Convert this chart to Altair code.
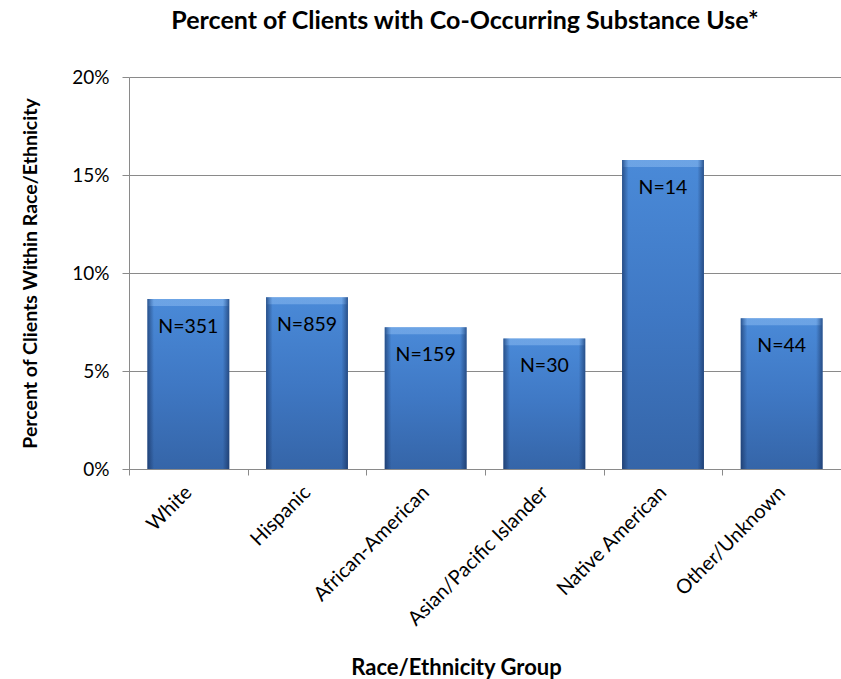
import altair as alt
import pandas as pd

groups = ["White", "Hispanic", "African-American", "Asian/Pacific Islander",
          "Native American", "Other/Unknown"]
percents = [8.67, 8.76, 7.23, 6.66, 15.76, 7.69]
n_labels = ["N=351", "N=859", "N=159", "N=30", "N=14", "N=44"]
y_ticks = [0, 0.05, 0.10, 0.15, 0.20]

df = pd.DataFrame({"group": groups, "pct": [p / 100 for p in percents], "label": n_labels})

FONT = "Lato"
GRID = "#8a8a8a"

x_enc = alt.X(
    "group:N", sort=groups,
    scale=alt.Scale(paddingInner=0, paddingOuter=0),
    axis=alt.Axis(
        title="Race/Ethnicity Group", labelAngle=-45, labelAlign="right", labelBaseline="middle",
        tickBand="extent", tickSize=6, tickColor=GRID, domainColor=GRID, labelPadding=14,
        labelFont=FONT, labelFontSize=20, labelColor="black", labelLimit=400,
        titleFont=FONT, titleFontSize=22, titleFontWeight="bold", titleColor="black",
        titleX=327, titleY=198, titleAlign="center", titleBaseline="middle", titleAngle=0,
    ),
)
y_enc = alt.Y(
    "pct:Q",
    scale=alt.Scale(domain=[0, 0.2]),
    axis=alt.Axis(
        title="Percent of Clients Within Race/Ethnicity", values=y_ticks, format=".0%",
        tickSize=7, tickColor=GRID, domainColor=GRID, gridColor=GRID, grid=True,
        labelPadding=13, labelFont=FONT, labelFontSize=19, labelColor="black",
        titleFont=FONT, titleFontSize=19.5, titleFontWeight="bold", titleColor="black",
        titleX=-99, titleY=196, titleAngle=-90, titleAlign="center", titleBaseline="middle",
    ),
)

base_grad = alt.Gradient(
    gradient="linear", x1=0, x2=0, y1=0, y2=1,
    stops=[alt.GradientStop(color="#4a8ad8", offset=0),
           alt.GradientStop(color="#3f78c4", offset=0.5),
           alt.GradientStop(color="#3565a8", offset=1)],
)
edge_grad = alt.Gradient(
    gradient="linear", x1=0, x2=1, y1=0, y2=0,
    stops=[alt.GradientStop(color="rgba(15,35,75,0.55)", offset=0),
           alt.GradientStop(color="rgba(15,35,75,0.0)", offset=0.08),
           alt.GradientStop(color="rgba(15,35,75,0.0)", offset=0.92),
           alt.GradientStop(color="rgba(15,35,75,0.55)", offset=1)],
)
bevel_grad = alt.Gradient(
    gradient="linear", x1=0, x2=1, y1=0, y2=0,
    stops=[alt.GradientStop(color="rgba(150,195,245,0.0)", offset=0),
           alt.GradientStop(color="rgba(150,195,245,0.45)", offset=0.08),
           alt.GradientStop(color="rgba(150,195,245,0.45)", offset=0.92),
           alt.GradientStop(color="rgba(150,195,245,0.0)", offset=1)],
)

bw = alt.RelativeBandSize(0.69)
bars = alt.Chart(df).mark_bar(color=base_grad, width=bw).encode(x=x_enc, y=y_enc)
edges = alt.Chart(df).mark_bar(color=edge_grad, width=bw).encode(
    x=alt.X("group:N", sort=groups), y="pct:Q")
bevel = alt.Chart(df).transform_calculate(top2="datum.pct - 0.0035").mark_bar(
    color=bevel_grad, width=bw).encode(
    x=alt.X("group:N", sort=groups), y="pct:Q", y2="top2:Q")
labels = alt.Chart(df).mark_text(
    font=FONT, fontSize=19.5, color="black", baseline="middle", dy=28
).encode(x=alt.X("group:N", sort=groups), y="pct:Q", text="label:N")

chart = alt.layer(bars, edges, bevel, labels).properties(
    width=712, height=392,
    title=alt.TitleParams(
        "Percent of Clients with Co-Occurring Substance Use*", font=FONT, fontSize=25,
        fontWeight="bold", color="black", anchor="middle", dx=-20, offset=34,
    ),
    autosize=alt.AutoSizeParams(type="none"),
    padding={"left": 129, "top": 77, "right": 0, "bottom": 210},
).configure_view(stroke=None).configure(background="white")

chart.save("out.html", embed_options={"renderer": "svg", "actions": False})
